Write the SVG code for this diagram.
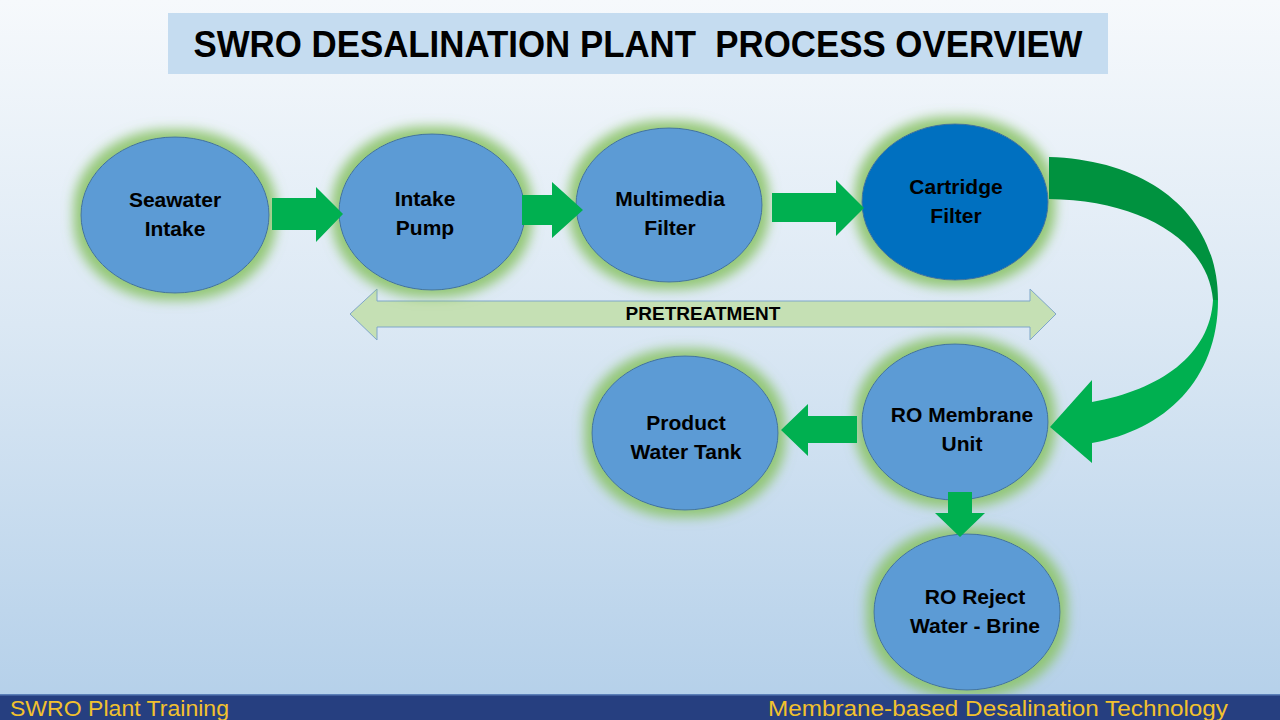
<svg xmlns="http://www.w3.org/2000/svg" width="1280" height="720" viewBox="0 0 1280 720">
<defs>
<linearGradient id="bg" x1="0" y1="0" x2="0" y2="1">
<stop offset="0" stop-color="#f6f9fc"/>
<stop offset="0.45" stop-color="#dbe8f4"/>
<stop offset="1" stop-color="#b3cfe9"/>
</linearGradient>
<filter id="glow" x="-30%" y="-30%" width="160%" height="160%">
<feMorphology in="SourceAlpha" operator="dilate" radius="7" result="d"/>
<feGaussianBlur in="d" stdDeviation="6" result="b"/>
<feFlood flood-color="#8cc46a" flood-opacity="0.9"/>
<feComposite in2="b" operator="in" result="g"/>
<feMerge><feMergeNode in="g"/><feMergeNode in="SourceGraphic"/></feMerge>
</filter>
<style>
.node{fill:#5b9bd5;stroke:#41719c;stroke-width:1;filter:url(#glow)}
.dark{fill:#0070c0}
.lbl{font-family:"Liberation Sans",Arial,sans-serif;font-weight:bold;font-size:21px;fill:#000;text-anchor:middle}
.arr{fill:#00b050}
.foot{font-family:"Liberation Sans",Arial,sans-serif;font-size:22px;fill:#f2c12e}
</style>
</defs>
<rect width="1280" height="720" fill="url(#bg)"/>
<g id="title">
<rect x="168" y="13" width="940" height="61" fill="#c5dcf0"/>
<text x="638" y="57" text-anchor="middle" font-family="'Liberation Sans',Arial,sans-serif" font-weight="bold" font-size="36" textLength="889" lengthAdjust="spacingAndGlyphs" xml:space="preserve" style="white-space:pre">SWRO DESALINATION PLANT  PROCESS OVERVIEW</text>
</g>
<g id="pretreatment">
<path d="M350,314 L377,289 L377,301 L1030,301 L1030,289 L1056,314 L1030,340 L1030,327 L377,327 L377,340 Z" fill="#c5e0b4" stroke="#7fa6c9" stroke-width="1"/>
<text x="703" y="320" text-anchor="middle" font-family="'Liberation Sans',Arial,sans-serif" font-weight="bold" font-size="19">PRETREATMENT</text>
</g>
<g id="seawater-intake">
<ellipse class="node" cx="175" cy="215" rx="94" ry="78"/>
<text class="lbl" x="175" y="207">Seawater</text>
<text class="lbl" x="175" y="236">Intake</text>
</g>
<g id="intake-pump">
<ellipse class="node" cx="432" cy="212" rx="93" ry="78"/>
<text class="lbl" x="425" y="206">Intake</text>
<text class="lbl" x="425" y="235">Pump</text>
</g>
<g id="multimedia-filter">
<ellipse class="node" cx="669" cy="205" rx="93" ry="77"/>
<text class="lbl" x="670" y="206">Multimedia</text>
<text class="lbl" x="670" y="235">Filter</text>
</g>
<g id="cartridge-filter">
<ellipse class="node dark" cx="955" cy="202" rx="93" ry="78"/>
<text class="lbl" x="956" y="194">Cartridge</text>
<text class="lbl" x="956" y="223">Filter</text>
</g>
<g id="ro-membrane-unit">
<ellipse class="node" cx="955" cy="422" rx="93" ry="78"/>
<text class="lbl" x="962" y="422">RO Membrane</text>
<text class="lbl" x="962" y="451">Unit</text>
</g>
<g id="product-water-tank">
<ellipse class="node" cx="685" cy="433" rx="93" ry="77"/>
<text class="lbl" x="686" y="430">Product</text>
<text class="lbl" x="686" y="459">Water Tank</text>
</g>
<g id="ro-reject">
<ellipse class="node" cx="967" cy="612" rx="93" ry="78"/>
<text class="lbl" x="975" y="604">RO Reject</text>
<text class="lbl" x="975" y="633">Water - Brine</text>
</g>
<g id="connectors">
<path class="arr" d="M272,198 L316,198 L316,187 L343,214 L316,242 L316,230 L272,230 Z"/>
<path class="arr" d="M522,195 L552,195 L552,182 L583,210 L552,238 L552,225 L522,225 Z"/>
<path class="arr" d="M772,193 L836,193 L836,180 L864,208 L836,236 L836,222 L772,222 Z"/>
<path class="arr" d="M857,416 L808,416 L808,404 L781,430 L808,456 L808,443 L857,443 Z"/>
<path class="arr" d="M948,492 L972,492 L972,513 L985,513 L960,537 L935,513 L948,513 Z"/>
<path d="M1049,157 C1150,160 1218,215 1218,300 L1213,300 C1208,240 1140,200 1049,199 Z" fill="#00923f"/>
<path d="M1218,300 C1218,380 1165,430 1092,443 L1092,463 L1050,427 L1092,380 L1092,402 C1160,390 1210,355 1213,300 Z" fill="#00b050"/>
</g>
<g id="footer">
<rect x="0" y="695" width="1280" height="25" fill="#263f80"/>
<rect x="0" y="694" width="1280" height="1.5" fill="#5b7fb8"/>
<text class="foot" x="10" y="716" textLength="219" lengthAdjust="spacingAndGlyphs">SWRO Plant Training</text>
<text class="foot" x="768" y="716" textLength="460" lengthAdjust="spacingAndGlyphs">Membrane-based Desalination Technology</text>
</g>
</svg>
